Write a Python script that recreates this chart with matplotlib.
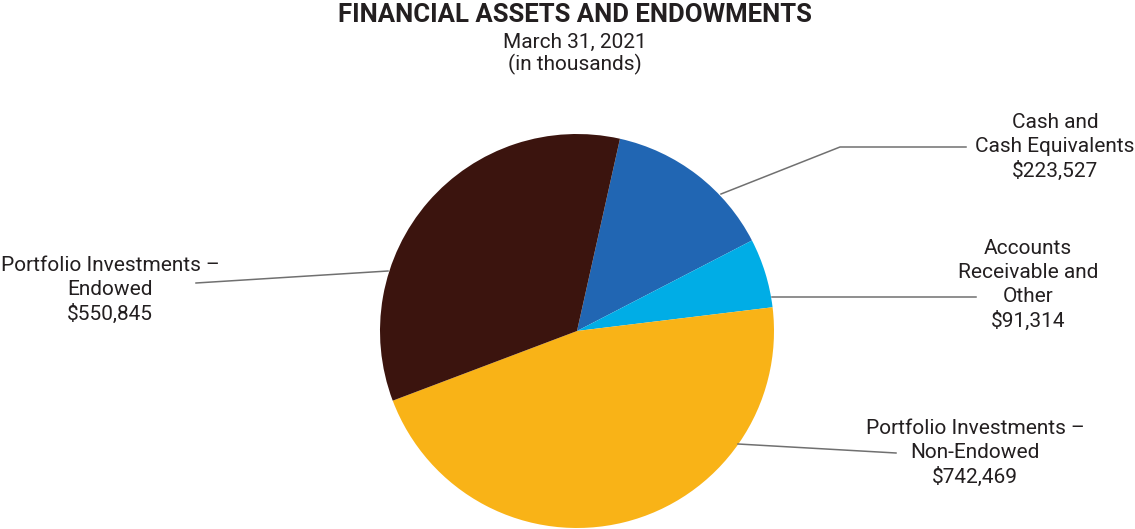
import matplotlib.pyplot as plt

plt.rcParams['font.family'] = ['Roboto', 'DejaVu Sans']

# data (in thousands)
labels = ['Cash and\nCash Equivalents', 'Accounts\nReceivable and\nOther',
          'Portfolio Investments \u2013\nNon-Endowed', 'Portfolio Investments \u2013\nEndowed']
values = [223527, 91314, 742469, 550845]
colors = ['#2166b3', '#00ade6', '#f9b317', '#3b140e']

W, H = 1135, 529

fig = plt.figure(figsize=(W / 100, H / 100), dpi=100)
ax = fig.add_axes([0, 0, 1, 1])

# pie, laid out in pixel space (y measured from the bottom)
ax.pie(values, colors=colors, startangle=77.4, counterclock=False,
       center=(577, H - 331), radius=197, frame=True,
       wedgeprops=dict(linewidth=0))
ax.set_xlim(0, W)
ax.set_ylim(0, H)
ax.set_aspect('equal')
ax.axis('off')

# leader lines and labels: (line x, line y, text x, text block centre y)
layout = [
    ([721, 840, 966], [194, 147, 147], 1055, 147),
    ([772, 976], [297, 297], 1028, 285),
    ([738, 896], [444, 453], 975, 453),
    ([388, 196], [271, 283], 110, 290),
]

for (lx, ly, tx, ty), lab, v in zip(layout, labels, values):
    ax.plot(lx, [H - y for y in ly], color='#707070', lw=1.1)
    txt = lab + '\n' + f'${v:,}'
    ax.text(tx, H - ty, txt, ha='center', va='center', fontsize=15,
            color='#231f20', linespacing=1.31)

fig.text(575 / W, 1 - 15 / H, 'FINANCIAL ASSETS AND ENDOWMENTS', ha='center', va='center',
         fontsize=18.5, fontweight='bold', color='#231f20')
fig.text(575 / W, 1 - 42 / H, 'March 31, 2021', ha='center', va='center',
         fontsize=15, color='#231f20')
fig.text(575 / W, 1 - 64 / H, '(in thousands)', ha='center', va='center',
         fontsize=15, color='#231f20')

fig.savefig('out.png', dpi=100)
